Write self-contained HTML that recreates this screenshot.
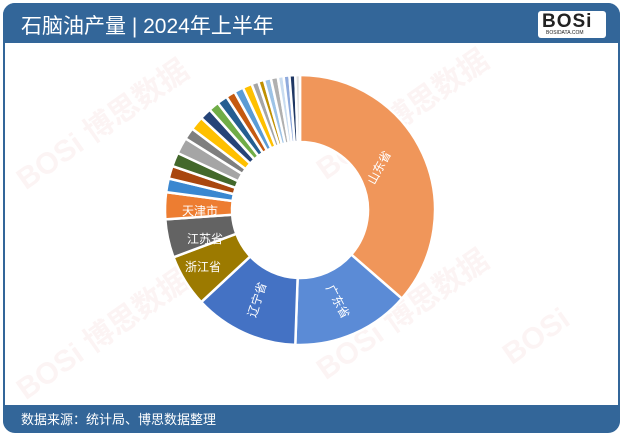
<!DOCTYPE html>
<html><head><meta charset="utf-8"><style>
html,body{margin:0;padding:0;background:#fff;}
body{width:623px;height:435px;position:relative;overflow:hidden;font-family:"Liberation Sans","Noto Sans CJK SC",sans-serif;}
.frame{position:absolute;left:3px;top:3px;width:613px;height:426px;border:2px solid #336699;border-radius:12px;}
.hdr{position:absolute;left:3px;top:3px;width:617px;height:40px;background:#336699;border-radius:12px 12px 0 0;}
.hdr .t{position:absolute;left:18px;top:7px;color:#fff;font-size:21px;}
.logo{position:absolute;right:14px;top:8px;width:68px;height:27px;background:#fff;border-radius:3px;}
.logo b{position:absolute;left:4px;top:0;font:900 19px "Liberation Sans",sans-serif;color:#222;letter-spacing:1px;}
.logo i{position:absolute;left:8px;top:19px;font:normal 5px "Liberation Sans",sans-serif;color:#222;}
.ftr{position:absolute;left:3px;top:405px;width:617px;height:27px;background:#336699;border-radius:0 0 12px 12px;}
.ftr span{position:absolute;left:18px;top:4px;color:#fff;font-size:13px;}
svg{position:absolute;left:0;top:0;}
.wm{position:absolute;color:rgba(220,120,120,0.08);font:bold 30px "Liberation Sans","Noto Sans CJK SC",sans-serif;transform:rotate(-35deg);white-space:nowrap;}
</style></head><body>
<div class="frame"></div>
<div class="wm" style="left:0px;top:100px">BOSi 博思数据</div>
<div class="wm" style="left:300px;top:90px">BOSi 博思数据</div>
<div class="wm" style="left:300px;top:290px">BOSi 博思数据</div>
<div class="wm" style="left:0px;top:310px">BOSi 博思数据</div>
<div class="wm" style="left:500px;top:320px">BOSi</div>
<svg width="623" height="435" id="s"></svg>
<div class="hdr"><span class="t">石脑油产量 | 2024年上半年</span><div class="logo"><b>BOSi</b><i>BOSIDATA.COM</i></div></div>
<div class="ftr"><span>数据来源：统计局、博思数据整理</span></div>
<script>
var cx=300,cy=210,R=135,r=68;
var segs=[[0,131,"#f0965a"],[131,182,"#5b8bd6"],[182,227,"#4472c4"],[227,249.5,"#9c7a00"],[249.5,266,"#636363"],[266,277.6,"#ed7d31"],
[277.6,283.5,"#3a87d0"],[283.5,289,"#a9470f"],[289,295,"#43682b"],[295,302,"#a5a5a5"],[302,307,"#7f7f7f"],[307,313,"#ffc000"],
[313,318,"#264478"],[318,322.5,"#70ad47"],[322.5,327,"#255e91"],[327,331,"#c55a11"],[331,335,"#5b9bd5"],[335,339,"#ffc000"],
[339,342,"#a5a5a5"],[342,344.5,"#bf9000"],[344.5,347.5,"#9dc3e6"],[347.5,350.5,"#b0b0b0"],[350.5,353,"#c9dcf0"],[353,355.5,"#8faadc"],[355.5,358,"#203864"],[358,360,"#dddddd"]];
function p(a,rad){a=(a-90)*Math.PI/180;return [cx+rad*Math.cos(a),cy+rad*Math.sin(a)];}
var h="";
segs.forEach(function(s){var a=p(s[0],R),b=p(s[1],R),c=p(s[1],r),d=p(s[0],r),l=(s[1]-s[0])>180?1:0;
h+='<path d="M'+a+' A'+R+','+R+' 0 '+l+' 1 '+b+' L'+c+' A'+r+','+r+' 0 '+l+' 0 '+d+'Z" fill="'+s[2]+'" stroke="#fff" stroke-width="2.5"/>';});
var st='fill="#fff" font-size="12" font-family="Liberation Sans,Noto Sans CJK SC,sans-serif" text-anchor="middle" dominant-baseline="middle"';
h+='<text '+st+' transform="translate(380,168) rotate(-62)">山东省</text>';
h+='<text '+st+' transform="translate(337,302) rotate(62)">广东省</text>';
h+='<text '+st+' transform="translate(258,300) rotate(-72)">辽宁省</text>';
h+='<text '+st+' x="203" y="268">浙江省</text>';
h+='<text '+st+' x="205" y="240">江苏省</text>';
h+='<text '+st+' x="200" y="212">天津市</text>';
document.getElementById('s').innerHTML=h;
</script>
</body></html>
